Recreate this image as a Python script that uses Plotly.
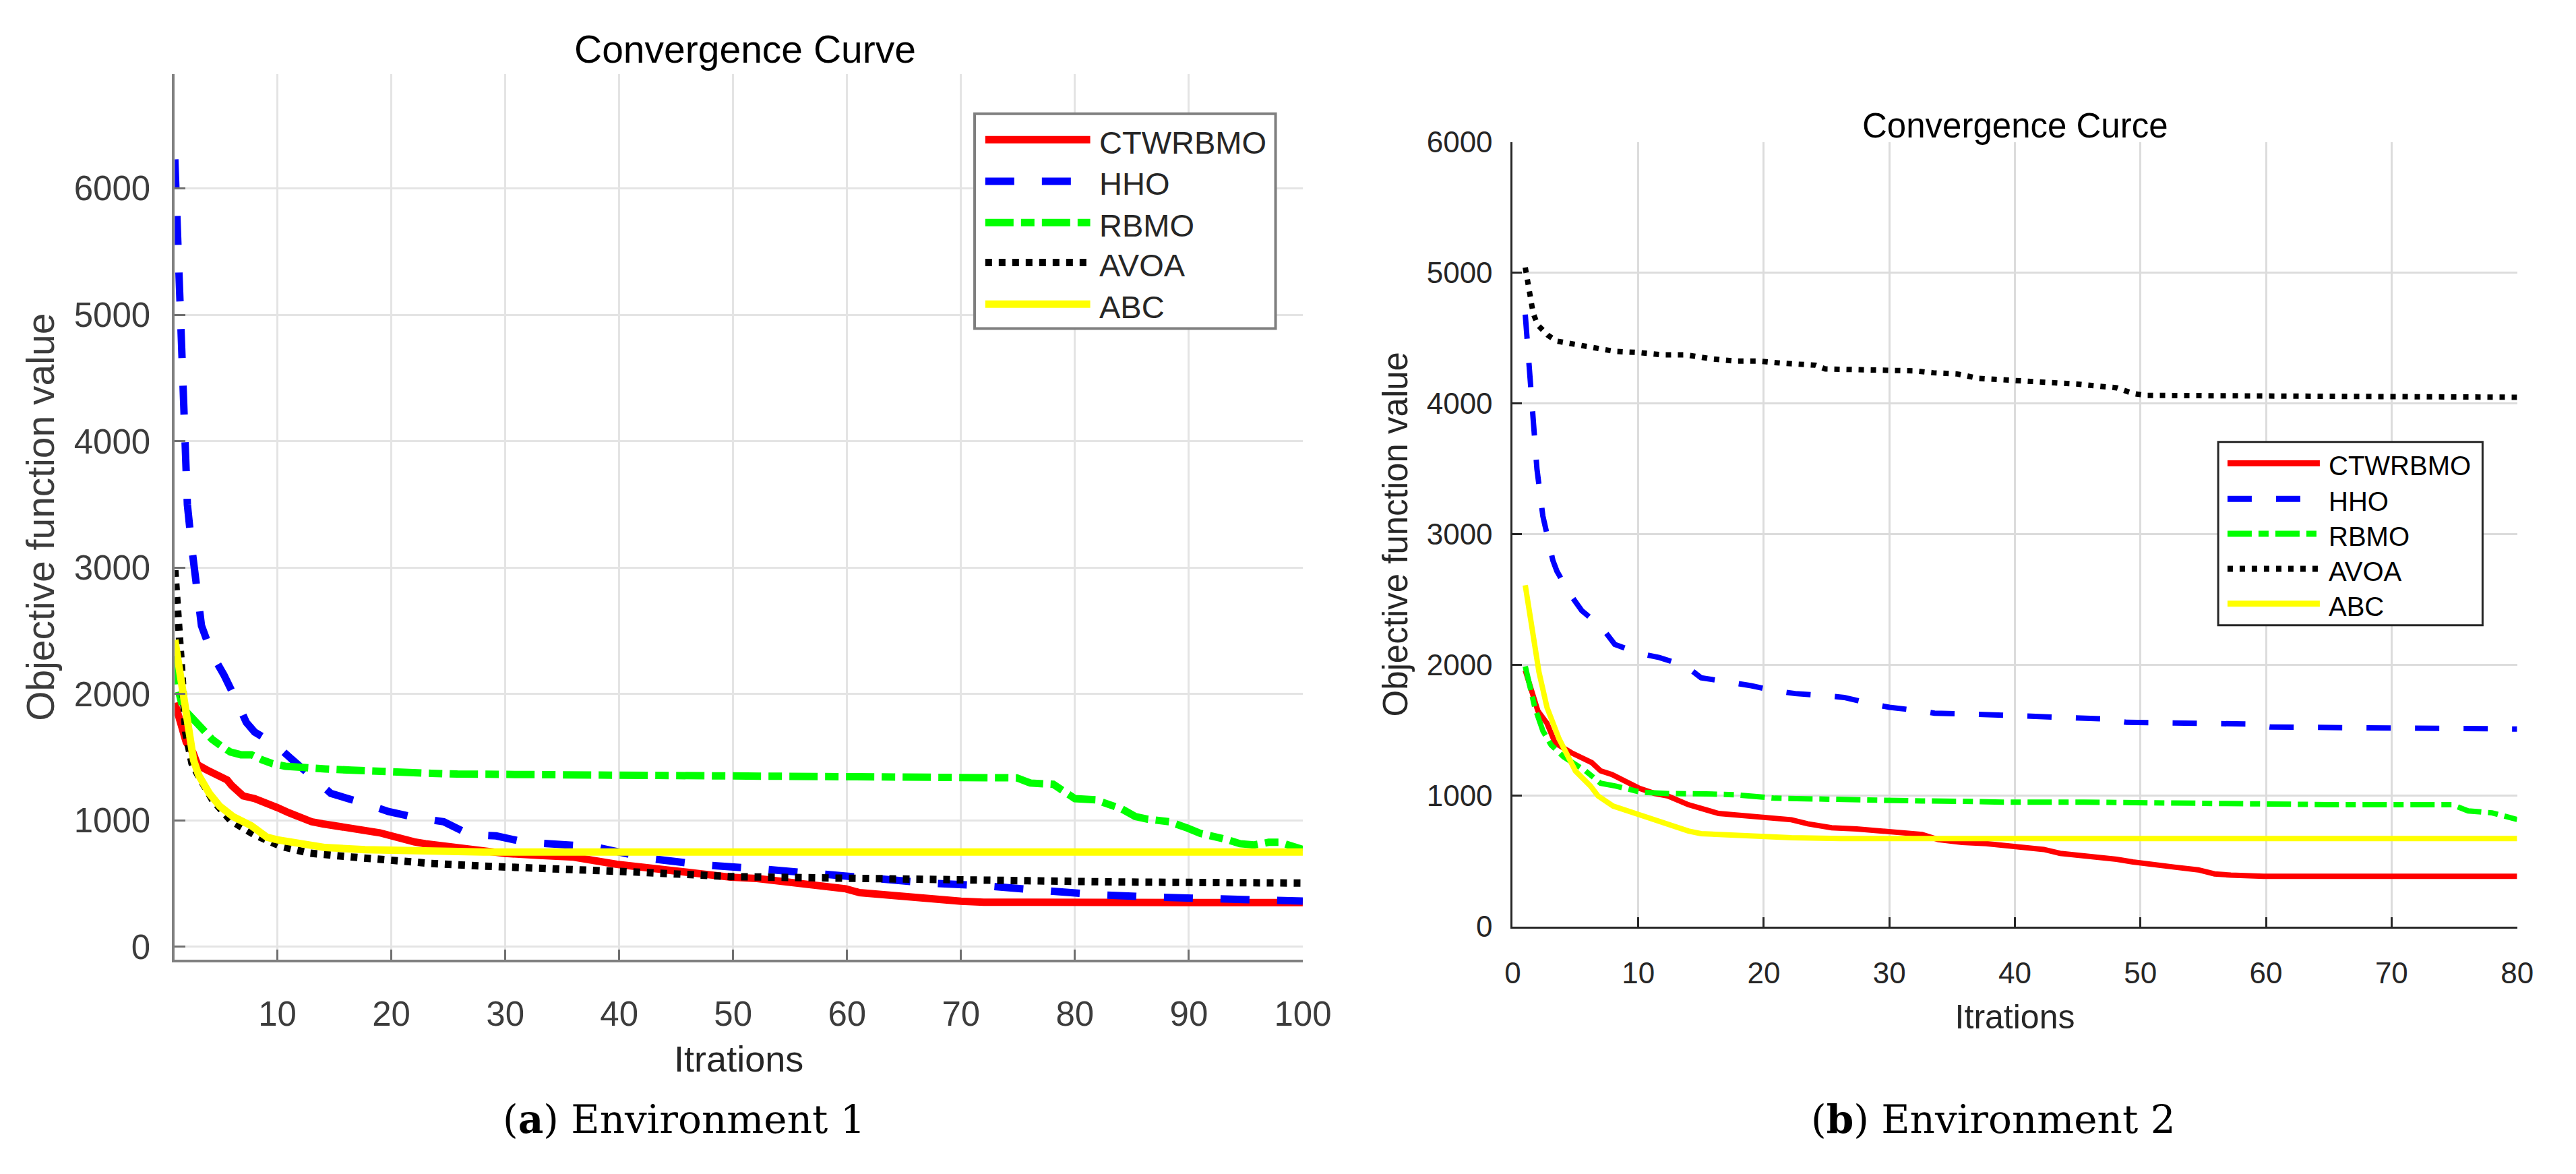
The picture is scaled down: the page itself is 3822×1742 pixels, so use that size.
import plotly.graph_objects as go

# ---------------- DATA ----------------
series_names = ["CTWRBMO", "HHO", "RBMO", "AVOA", "ABC"]

# Environment 1 (left panel)
env1_ctwrbmo_x = [1, 1.7, 2, 2.6, 3, 3.8, 5, 5.6, 6, 6.8, 7, 8, 9, 10, 11, 12, 13, 14, 15, 16, 17, 18, 19, 20,
                  21, 22, 23, 24, 25, 26, 28, 30, 33, 36, 39.8, 42.8, 46.3, 49.8, 52.1, 55.5, 57.8, 59.9, 61.1,
                  63.6, 67, 70, 72, 80, 90, 100]
env1_ctwrbmo_y = [1930, 1700, 1620, 1536, 1440, 1400, 1337, 1320, 1276, 1196, 1194, 1173, 1143, 1102, 1061, 1020,
                  990, 973, 959, 943, 933, 922, 902, 878, 851, 831, 816, 806, 790, 776, 755, 739, 724, 710, 653,
                  622, 582, 551, 541, 510, 480, 459, 429, 408, 388, 361, 353, 352, 351, 350]

env1_hho_x = [1, 1.2, 1.45, 1.64, 1.9, 2.1, 2.5, 2.8, 3.0, 3.34, 4.26, 5.3, 6.46, 7.27, 8, 9.8, 11.2, 13.3, 14.7,
              17.7, 19.75, 22.3, 24.6, 26.9, 29.2, 31.8, 34.1, 37.8, 42.6, 47.5, 52.4, 57.4, 62.2, 67.2, 71.9,
              77, 81.8, 86.7, 91.6, 96.4, 100]
env1_hho_y = [6230, 5700, 5200, 4500, 4000, 3500, 3150, 2950, 2750, 2541, 2316, 2153, 1939, 1776, 1700, 1602,
              1490, 1316, 1214, 1133, 1071, 1020, 990, 888, 878, 827, 816, 793, 700, 648, 617, 577, 536, 505, 484,
              443, 414, 394, 383, 368, 362]

env1_rbmo_x = [1, 1.25, 1.72, 2.18, 2.64, 3.34, 4.26, 5.18, 5.88, 6.8, 7.73, 8.65, 9.58, 10.7, 11.9, 14.2, 16.5,
               18.8, 21.1, 23.5, 25.8, 30.4, 36.6, 50, 68, 74.9, 76.1, 78.1, 80, 81.8, 84.1, 85.3, 86.4, 88.3,
               89.9, 91, 93.4, 94.5, 95.7, 97, 98, 99.4, 100]
env1_rbmo_y = [2300, 2051, 1888, 1847, 1786, 1724, 1643, 1582, 1541, 1520, 1520, 1480, 1449, 1429, 1418, 1408,
               1398, 1394, 1388, 1373, 1367, 1363, 1361, 1352, 1340, 1337, 1296, 1286, 1173, 1163, 1092, 1031,
               1010, 990, 939, 898, 847, 816, 806, 827, 827, 786, 770]

env1_avoa_x = [1, 1.25, 1.6, 1.95, 2.5, 3.1, 4.3, 5.9, 8, 10.3, 12.8, 16.5, 20, 23.5, 28.1, 36, 42, 49.7, 58.9,
               68, 72, 84, 100]
env1_avoa_y = [2980, 2546, 2196, 1700, 1453, 1350, 1165, 1000, 887, 796, 742, 711, 684, 660, 639, 619, 590, 556,
               546, 525, 525, 513, 505]

env1_abc_x = [1, 1.25, 1.72, 2.18, 2.64, 3.1, 4.03, 4.95, 6.1, 7.7, 9.1, 10.0, 11.9, 14.2, 17.7, 21.1, 28.1,
              40, 100]
env1_abc_y = [2429, 2276, 1969, 1684, 1480, 1357, 1214, 1112, 1031, 959, 867, 847, 816, 786, 769, 761, 751,
              750, 750]

# Environment 2 (right panel)
env2_ctwrbmo_x = [1, 2, 2.73, 3.38, 4.68, 6.3, 7.0, 7.9, 10.1, 11.3, 12.35, 14.0, 16.4, 17.7, 19.6, 20.9, 22.2,
                  23.5, 25.4, 27.4, 29.3, 30.6, 31.9, 32.6, 33.9, 35.8, 37.7, 39, 41, 42.3, 43.6, 45.5, 46.8,
                  48.1, 49.4, 50.7, 52.7, 54.6, 55.9, 57.2, 59.8, 80]
env2_ctwrbmo_y = [1960, 1650, 1555, 1404, 1329, 1254, 1191, 1163, 1057, 1018, 999, 932, 865, 855, 838, 826, 817,
                  786, 756, 747, 732, 726, 717, 705, 665, 644, 635, 620, 605, 590, 560, 545, 530, 515, 494, 476,
                  455, 434, 403, 394, 385, 385]

env2_hho_x = [1, 1.16, 1.42, 1.66, 1.93, 2.4, 3.2, 3.52, 4.5, 5.5, 7.06, 8.13, 10.0, 11.67, 13.8, 15, 17.3, 19,
              20.9, 22.5, 24.8, 26.4, 28.4, 30, 32.3, 33.6, 37.5, 41.4, 44.9, 47.3, 48.9, 52.5, 56.4, 58.6, 60.3,
              80]
env2_hho_y = [4680, 4489, 4200, 3850, 3500, 3140, 2800, 2718, 2551, 2416, 2292, 2158, 2091, 2058, 1992, 1903,
              1872, 1842, 1803, 1782, 1767, 1752, 1707, 1677, 1652, 1632, 1622, 1607, 1592, 1587, 1562, 1557,
              1549, 1549, 1526, 1511]

env2_rbmo_x = [1, 1.76, 2.41, 3.06, 4.04, 5.8, 7.0, 8.2, 10.2, 12.35, 15.4, 17.7, 20.9, 23.5, 26.1, 29.9, 32.6,
               35.8, 39, 45.5, 48.8, 52, 55.3, 61.8, 65, 74.8, 76.1, 78, 80]
env2_rbmo_y = [1990, 1676, 1495, 1389, 1299, 1191, 1096, 1075, 1028, 1018, 1015, 1008, 982, 976, 973, 967, 961,
               958, 952, 952, 948, 945, 939, 936, 933, 933, 885, 870, 819]

env2_avoa_x = [1, 1.27, 1.63, 2, 2.8, 3.5, 4.5, 5.4, 6.2, 7.2, 8.1, 10, 11.9, 13.8, 15.7, 17.6, 19.5, 21.35,
               23.2, 24.1, 24.9, 26.9, 29.8, 31.9, 33.5, 35.4, 37.1, 44.9, 48.1, 49.4, 50.4, 80]
env2_avoa_y = [5040, 4881, 4690, 4600, 4522, 4477, 4460, 4455, 4440, 4421, 4399, 4390, 4372, 4372, 4343, 4325,
               4325, 4309, 4300, 4293, 4264, 4260, 4255, 4250, 4235, 4226, 4192, 4149, 4120, 4077, 4062, 4048]

env2_abc_x = [1, 1.44, 2.09, 2.73, 3.7, 5.0, 6.2, 6.8, 8.0, 10.1, 12.35, 14.0, 15, 17.7, 19.6, 22.2, 26.1, 80]
env2_abc_y = [2610, 2339, 1947, 1676, 1434, 1190, 1075, 999, 922, 855, 778, 731, 711, 696, 690, 680, 674, 674]

y_tick_values = [0, 1000, 2000, 3000, 4000, 5000, 6000]
env1_x_ticks = [10, 20, 30, 40, 50, 60, 70, 80, 90, 100]
env2_x_ticks = [0, 10, 20, 30, 40, 50, 60, 70, 80]

panel_titles = ["Convergence Curve", "Convergence Curce"]
x_title = "Itrations"
y_title = "Objective function value"
captions = ["(<b>a</b>) Environment 1", "(<b>b</b>) Environment 2"]

# ---------------- STYLE ----------------
W, H = 3822, 1742
SANS = "Liberation Sans, Arial, sans-serif"
SERIF = "DejaVu Serif, Liberation Serif, serif"
colors = ["#ff0000", "#0000ff", "#00ff00", "#000000", "#ffff00"]
dash1 = ["solid", "43px,41px", "42px,11px,20px,11px", "10px,10px", "solid"]
dash2 = ["solid", "36px,36px", "36px,10px,15px,10px", "8px,10px", "solid"]


def px_x(p):
    return p / W


def px_y(p):
    return 1 - p / H


fig = go.Figure()

env1 = [(env1_ctwrbmo_x, env1_ctwrbmo_y), (env1_hho_x, env1_hho_y), (env1_rbmo_x, env1_rbmo_y),
        (env1_avoa_x, env1_avoa_y), (env1_abc_x, env1_abc_y)]
env2 = [(env2_ctwrbmo_x, env2_ctwrbmo_y), (env2_hho_x, env2_hho_y), (env2_rbmo_x, env2_rbmo_y),
        (env2_avoa_x, env2_avoa_y), (env2_abc_x, env2_abc_y)]

for i, (xs, ys) in enumerate(env1):
    fig.add_trace(go.Scatter(x=xs, y=ys, mode="lines", name=series_names[i], showlegend=False,
                             line=dict(color=colors[i], width=11, dash=dash1[i]),
                             xaxis="x", yaxis="y"))
for i, (xs, ys) in enumerate(env2):
    fig.add_trace(go.Scatter(x=xs, y=ys, mode="lines", name=series_names[i], showlegend=False,
                             line=dict(color=colors[i], width=8, dash=dash2[i]),
                             xaxis="x2", yaxis="y2"))

grid1 = "#e4e4e4"
fig.update_layout(
    width=W, height=H,
    margin=dict(l=0, r=0, t=0, b=0),
    paper_bgcolor="white", plot_bgcolor="white",
    font=dict(family=SANS, color="#262626"),
    showlegend=False,
    xaxis=dict(domain=[px_x(251), px_x(1949)], range=[1, 100], tickvals=env1_x_ticks,
               ticks="inside", ticklen=15, tickwidth=3, tickcolor="#707070",
               showline=True, linecolor="#808080", linewidth=4, mirror=False,
               showgrid=True, gridcolor=grid1, gridwidth=3, zeroline=False,
               tickfont=dict(size=51, color="#3c3c3c"), ticklabelstandoff=32,
               title=dict(text=x_title, font=dict(size=54, color="#262626"), standoff=22),
               anchor="y"),
    yaxis=dict(domain=[px_y(1440), px_y(87.5)], range=[-104, 6904], tickvals=y_tick_values,
               ticks="inside", ticklen=16, tickwidth=3, tickcolor="#707070",
               showline=True, linecolor="#808080", linewidth=4, mirror=False,
               showgrid=True, gridcolor=grid1, gridwidth=3, zeroline=False,
               tickfont=dict(size=51, color="#3c3c3c"), ticklabelstandoff=22,
               title=dict(text=y_title, font=dict(size=57, color="#3c3c3c"), standoff=12),
               anchor="x"),
    xaxis2=dict(domain=[px_x(2265), px_x(3777)], range=[0, 80], tickvals=env2_x_ticks,
                ticks="inside", ticklen=14, tickwidth=3, tickcolor="#262626",
                showline=True, linecolor="#262626", linewidth=3, mirror=False,
                showgrid=True, gridcolor="#dcdcdc", gridwidth=3, zeroline=False,
                tickfont=dict(size=44, color="#262626"), ticklabelstandoff=28,
                title=dict(text=x_title, font=dict(size=50, color="#262626"), standoff=25),
                anchor="y2"),
    yaxis2=dict(domain=[px_y(1389), px_y(191)], range=[0, 6000], tickvals=y_tick_values,
                ticks="inside", ticklen=14, tickwidth=3, tickcolor="#262626",
                showline=True, linecolor="#262626", linewidth=3, mirror=False,
                showgrid=True, gridcolor="#dcdcdc", gridwidth=3, zeroline=False,
                tickfont=dict(size=44, color="#262626"), ticklabelstandoff=18,
                title=dict(text=y_title, font=dict(size=51, color="#262626"), standoff=12),
                anchor="x2"),
)

annotations = [
    dict(text=panel_titles[0], x=px_x(1109), y=px_y(49), xref="paper", yref="paper",
         xanchor="center", yanchor="middle", showarrow=False, font=dict(size=57, color="#000000")),
    dict(text=panel_titles[1], x=px_x(3021), y=px_y(166), xref="paper", yref="paper",
         xanchor="center", yanchor="middle", showarrow=False, font=dict(size=51, color="#000000")),
    dict(text=captions[0], x=px_x(1018), y=px_y(1683), xref="paper", yref="paper",
         xanchor="center", yanchor="middle", showarrow=False, font=dict(size=58, color="#000000", family=SERIF)),
    dict(text=captions[1], x=px_x(2988), y=px_y(1683), xref="paper", yref="paper",
         xanchor="center", yanchor="middle", showarrow=False, font=dict(size=58, color="#000000", family=SERIF)),
]

# ---------------- LEGEND BOXES (drawn in page pixels) ----------------
shapes = []
legend_specs = [
    # box (x0, y0, x1, y1), border colour, border width, row y's, sample x0/x1, text x, font size, line width, dashes
    dict(box=(1455, 148, 1908, 476), bcol="#7f7f7f", bw=4, rows=[187.5, 251, 314, 375, 438.6],
         sx=(1471, 1629), tx=1641, fs=47, lw=11, dashes=dash1, tcol="#262626"),
    dict(box=(3327, 649, 3725, 929), bcol="#262626", bw=3, rows=[681.7, 736, 789.3, 842.7, 896],
         sx=(3341, 3480), tx=3491, fs=40, lw=9, dashes=dash2, tcol="#000000"),
]
for spec in legend_specs:
    x0, y0, x1, y1 = spec["box"]
    shapes.append(dict(type="rect", xref="paper", yref="paper", x0=px_x(x0), x1=px_x(x1),
                       y0=px_y(y1), y1=px_y(y0), fillcolor="white",
                       line=dict(color=spec["bcol"], width=spec["bw"]), layer="above"))
    for i, ry in enumerate(spec["rows"]):
        shapes.append(dict(type="line", xref="paper", yref="paper",
                           x0=px_x(spec["sx"][0]), x1=px_x(spec["sx"][1]), y0=px_y(ry), y1=px_y(ry),
                           line=dict(color=colors[i], width=spec["lw"], dash=spec["dashes"][i]),
                           layer="above"))
        annotations.append(dict(text=series_names[i], x=px_x(spec["tx"]), y=px_y(ry + 4),
                                xref="paper", yref="paper", xanchor="left", yanchor="middle",
                                showarrow=False, font=dict(size=spec["fs"], color=spec["tcol"])))

fig.update_layout(annotations=annotations, shapes=shapes)

fig.write_html("out.html", config={"displayModeBar": False},
               post_script="document.body.style.margin='0px';")
